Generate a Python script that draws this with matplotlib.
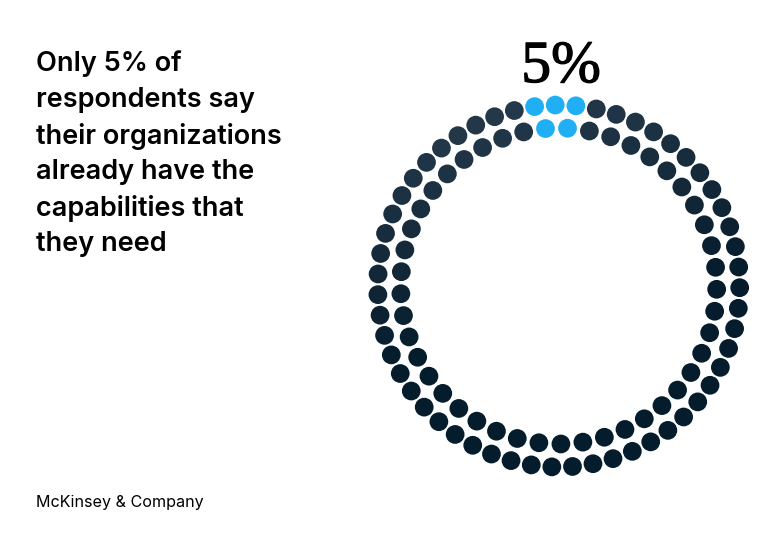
import numpy as np
import matplotlib
matplotlib.use("Agg")
import matplotlib.pyplot as plt
import matplotlib.patheffects as pe
from matplotlib.colors import to_rgb

title_lines = ["Only 5% of", "respondents say", "their organizations",
               "already have the", "capabilities that", "they need"]
headline = "5%"
source = "McKinsey & Company"
ring_counts = [55, 45]
ring_highlights = [3, 2]
ring_radii = [181, 158]
ring_rotation = [-1.1, -0.8]
blue = "#20aff5"
dark_top = "#2a3e50"
dark_bottom = "#051c2c"
cx, cy = 558.7, 286.0

fig = plt.figure(figsize=(7.84, 5.34), dpi=100, facecolor="white")
ax = fig.add_axes([0, 0, 1, 1])
ax.set_xlim(0, 784)
ax.set_ylim(534, 0)
ax.axis("off")

c0, c1 = np.array(to_rgb(dark_top)), np.array(to_rgb(dark_bottom))
for n, hi, r, rot in zip(ring_counts, ring_highlights, ring_radii, ring_rotation):
    k = np.arange(n) - (hi - 1) / 2
    theta = np.deg2rad(k * 360 / n + rot)
    x = cx + r * np.sin(theta)
    y = cy - r * np.cos(theta)
    # shade runs from the upper left to the lower right
    t = np.clip(((x - 370) * 0.25 + (y - 100) * 0.97) / 260, 0, 1)
    colors = [tuple(c0 + (c1 - c0) * v) for v in t]
    for i in range(hi):
        colors[i] = to_rgb(blue)
    ax.scatter(x, y, s=182, c=colors, linewidths=0, zorder=3)

for i, line in enumerate(title_lines):
    ax.text(36, 64 + i * 36, line, fontsize=19.5, family="Inter", weight=600,
            color="black", ha="left", va="center")
ax.text(561, 68, headline, fontsize=43, family="Liberation Serif", color="black",
        ha="center", va="center",
        path_effects=[pe.withStroke(linewidth=0.9, foreground="black")])
ax.text(36, 503, source, fontsize=11.6, family="Inter", color="black",
        ha="left", va="center")

fig.savefig("out.png", dpi=100, facecolor="white")
